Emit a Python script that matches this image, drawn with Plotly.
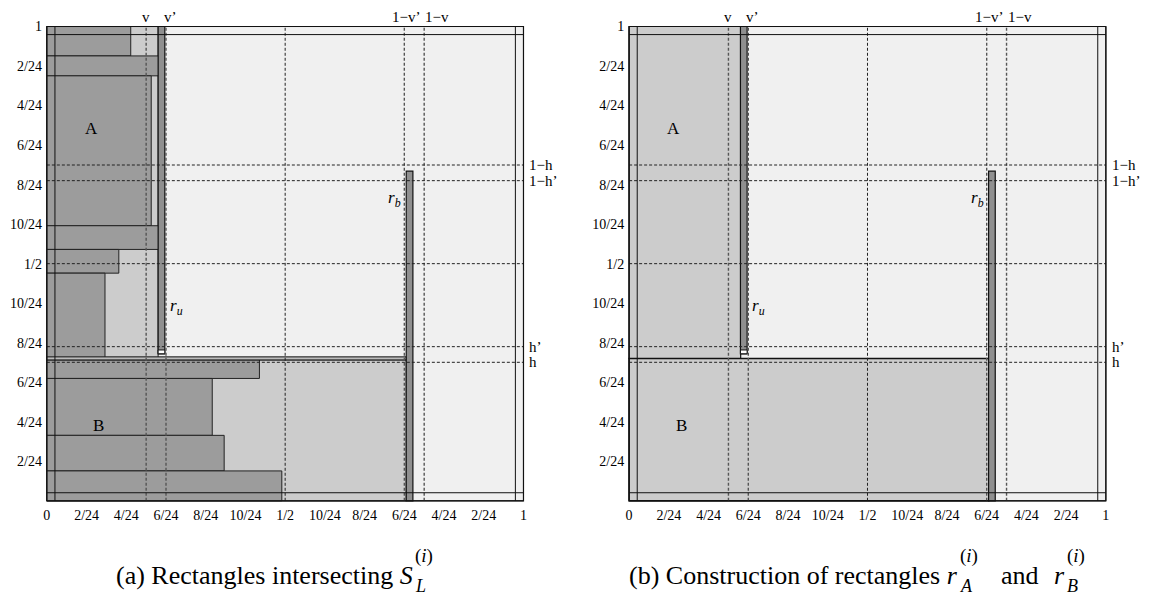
import plotly.graph_objects as go

W, HGT = 1154, 596
FONT = "Liberation Serif, Times New Roman, serif"

# ---- key positions (fractions of unit square) ----
V, VP = 5/24, 6/24          # v, v'
H, HP = 0.292, 0.325        # h, h'
D = 0.017                   # width of the border strips

x_tick_vals = [k/12 for k in range(13)]
x_tick_text = ["0", "2/24", "4/24", "6/24", "8/24", "10/24", "1/2",
               "10/24", "8/24", "6/24", "4/24", "2/24", "1"]
y_tick_vals = [k/12 for k in range(1, 13)]
y_tick_text = ["2/24", "4/24", "6/24", "8/24", "10/24", "1/2",
               "10/24", "8/24", "6/24", "4/24", "2/24", "1"]

# ---- panel (a): rectangles of group A (dark) ----
a_right  = [0.176, 0.2345, 0.219, 0.2345, 0.151, 0.122]
a_bottom = [0.938, 0.896, 0.580, 0.530, 0.480, 0.301]
a_top    = [1.000, 0.938, 0.896, 0.580, 0.530, 0.480]
# ---- panel (a): rectangles of group B (dark) ----
b_right  = [0.446, 0.347, 0.372, 0.493]
b_bottom = [0.258, 0.138, 0.063, 0.000]
b_top    = [0.297, 0.258, 0.138, 0.063]

# light zones: [x0, x1, y0, y1]
zone_a_left  = [0.0, 0.2335, 0.301, 1.0]
zone_b_left  = [0.0, 0.754, 0.0, 0.297]
strip_left   = [0.0, 0.754, 0.297, 0.3035]
zone_a_right = [0.0, 0.234, 0.300, 1.0]
zone_b_right = [0.0, 0.7546, 0.0, 0.300]

# thin rectangles r_u and r_b
r_u = [0.2335, 0.2475, 0.310, 1.0]
r_u_foot = [0.2335, 0.2475, 0.310, 0.318]
r_b = [0.754, 0.768, 0.0, 0.695]

# guide lines
v_lines = [V, VP, 1 - VP, 1 - V]
mid_line = 0.5
h_lines = [H, HP, 0.5, 1 - HP, 1 - H]

# label positions
label_A = (0.094, 0.784)
label_B = (0.109, 0.159)
label_ru_y = 0.408
label_rb_y = 0.636

# pixel anchors of the two unit squares
PAD = 0.004
panels = [
    dict(x0=45.0, x1=523.3, xref="x", yref="y"),
    dict(x0=629.3, x1=1107.7, xref="x2", yref="y2"),
]
Y_TOP, Y_BOT = 21.7, 500.0

fig = go.Figure()
shapes = []
annotations = []


def rect(p, box, fill, line="black", width=1):
    x0, x1, y0, y1 = box
    shapes.append(dict(type="rect", xref=p["xref"], yref=p["yref"],
                       x0=x0, x1=x1, y0=y0, y1=y1, fillcolor=fill,
                       line=dict(color=line, width=width), layer="above"))


def line(p, x0, y0, x1, y1, color="black", width=1, dash="solid"):
    shapes.append(dict(type="line", xref=p["xref"], yref=p["yref"],
                       x0=x0, y0=y0, x1=x1, y1=y1,
                       line=dict(color=color, width=width, dash=dash),
                       layer="above"))


def text(p, x, y, s, size=14, xanchor="center", yanchor="middle", xshift=0, yshift=0):
    annotations.append(dict(xref=p["xref"], yref=p["yref"], x=x, y=y, text=s,
                            showarrow=False, xanchor=xanchor, yanchor=yanchor,
                            xshift=xshift, yshift=yshift,
                            font=dict(family=FONT, size=size, color="black")))


DARK = "#9c9c9c"
LIGHT = "#cccccc"
BG = "#f0f0f0"

for i, p in enumerate(panels):
    fig.add_trace(go.Scatter(x=[0.5], y=[0.5], xaxis=p["xref"], yaxis=p["yref"],
                             mode="markers", marker=dict(size=1, opacity=0),
                             hoverinfo="skip"))
    rect(p, [0, 1, 0, 1], BG)
    if i == 0:
        rect(p, zone_a_left, LIGHT, line="#222")
        rect(p, zone_b_left, LIGHT, line="#222")
        for x1, y0, y1 in zip(a_right, a_bottom, a_top):
            rect(p, [0, x1, y0, y1], DARK, line="#222")
        for x1, y0, y1 in zip(b_right, b_bottom, b_top):
            rect(p, [0, x1, y0, y1], DARK, line="#222")
        rect(p, strip_left, "#bbbbbb", line="#111", width=1)
    else:
        rect(p, zone_a_right, LIGHT, line="#111", width=1.2)
        rect(p, zone_b_right, LIGHT, line="#111", width=1.5)
    rect(p, r_u, "#8f8f8f", line="#111", width=1.2)
    rect(p, r_u_foot, "white", line="#111", width=1)
    rect(p, r_b, "#8f8f8f", line="#111", width=1.2)

    # guide lines
    for xv in v_lines:
        line(p, xv, 0, xv, 1, color="#555", width=1.4, dash="3px,2px")
    line(p, mid_line, 0, mid_line, 1, color="#222", width=1, dash="3px,2px")
    for yv in h_lines:
        line(p, 0, yv, 1, yv, color="#222", width=1, dash="3px,2px")

    # double frame
    rect(p, [0, 1, 0, 1], "rgba(0,0,0,0)", line="#111", width=1.2)
    line(p, D, 0, D, 1, color="#111", width=1)
    line(p, 1 - D, 0, 1 - D, 1, color="#111", width=1)
    line(p, 0, D, 1, D, color="#111", width=1)
    line(p, 0, 1 - D, 1, 1 - D, color="#111", width=1)

    # labels
    text(p, label_A[0], label_A[1], "A", size=17)
    text(p, label_B[0], label_B[1], "B", size=17)
    text(p, VP, label_ru_y, "<i>r</i><sub><i>u</i></sub>", size=17, xanchor="left", xshift=2)
    text(p, 1 - VP, label_rb_y, "<i>r</i><sub><i>b</i></sub>", size=17, xanchor="right", xshift=-1)
    text(p, V, 1, "v", size=15, yanchor="bottom", yshift=0)
    text(p, VP, 1, "v’", size=15, yanchor="bottom", yshift=0, xshift=4)
    text(p, 1 - VP, 1, "1−v’", size=15, yanchor="bottom", yshift=0, xshift=2)
    text(p, 1 - V, 1, "1−v", size=15, xanchor="left", yanchor="bottom", yshift=0, xshift=-1)
    text(p, 1, 1 - H, "1−h", size=15, xanchor="left", xshift=4)
    text(p, 1, 1 - HP, "1−h’", size=15, xanchor="left", xshift=4)
    text(p, 1, HP, "h’", size=15, xanchor="left", xshift=4)
    text(p, 1, H, "h", size=15, xanchor="left", xshift=4)


# captions (paper coordinates from pixel positions)
def cap(xpx, ypx, s, size, xanchor):
    annotations.append(dict(xref="paper", yref="paper", x=xpx / W, y=1 - ypx / HGT,
                            text=s, showarrow=False, xanchor=xanchor, yanchor="middle",
                            font=dict(family=FONT, size=size, color="black")))


cap(414, 575, "(a) Rectangles intersecting <i>S</i>", 26, "right")
cap(412, 556, "(<i>i</i>)", 19, "left")
cap(412, 586, "<i>L</i>", 18, "left")

cap(961, 575, "(b) Construction of rectangles <i>r</i>", 26, "right")
cap(959, 556, "(<i>i</i>)", 19, "left")
cap(959, 586, "<i>A</i>", 18, "left")
cap(1000, 575, "and", 26, "left")
cap(1069, 575, "<i>r</i>", 26, "right")
cap(1067, 556, "(<i>i</i>)", 19, "left")
cap(1067, 586, "<i>B</i>", 18, "left")

fig.update_layout(shapes=shapes, annotations=annotations)

axis_common = dict(range=[-PAD, 1 + PAD], showgrid=False, zeroline=False,
                   showline=False, ticks="", fixedrange=True,
                   tickfont=dict(family=FONT, size=14, color="black"))
ydom = [1 - (Y_BOT + PAD * 478.3) / HGT, 1 - (Y_TOP - PAD * 478.3) / HGT]
layout_axes = {}
for i, p in enumerate(panels):
    s = p["x1"] - p["x0"]
    xdom = [(p["x0"] - PAD * s) / W, (p["x1"] + PAD * s) / W]
    xa = "xaxis" if i == 0 else "xaxis2"
    ya = "yaxis" if i == 0 else "yaxis2"
    layout_axes[xa] = dict(domain=xdom, anchor=p["yref"], tickvals=x_tick_vals,
                           ticktext=x_tick_text, ticklabelstandoff=2, **axis_common)
    layout_axes[ya] = dict(domain=ydom, anchor=p["xref"], tickvals=y_tick_vals,
                           ticktext=y_tick_text, ticklabelstandoff=2, **axis_common)

fig.update_layout(width=W, height=HGT, margin=dict(l=0, r=0, t=0, b=0),
                  paper_bgcolor="white", plot_bgcolor="white", showlegend=False,
                  **layout_axes)

fig.write_html("out.html")
